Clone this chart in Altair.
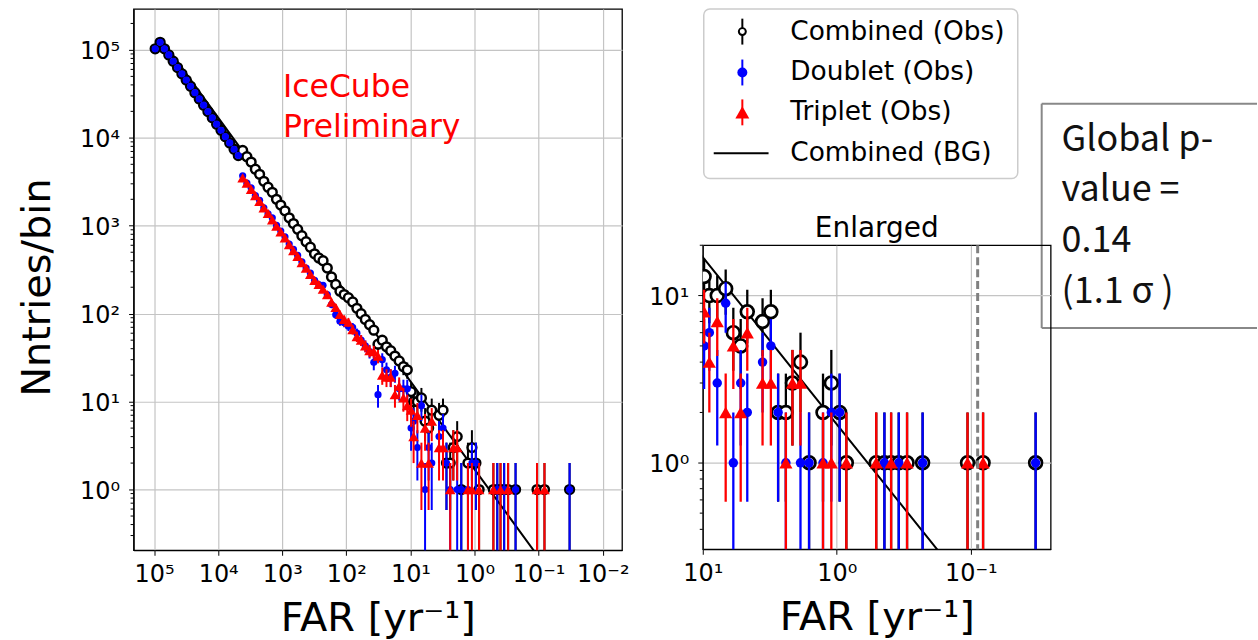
import altair as alt
import pandas as pd

FONT = "DejaVu Sans"

# ---------------- data ----------------
# bin centres, log10(FAR [1/yr])
log_far = [
    4.983, 4.906, 4.838, 4.770, 4.702, 4.634, 4.566, 4.499, 4.431, 4.363,
    4.295, 4.227, 4.160, 4.092, 4.024, 3.956, 3.888, 3.820, 3.752, 3.686,
    3.618, 3.552, 3.486, 3.420, 3.354, 3.288, 3.222, 3.156, 3.090, 3.024,
    2.958, 2.892, 2.826, 2.760, 2.694, 2.628, 2.562, 2.496, 2.430, 2.364,
    2.298, 2.232, 2.166, 2.100, 2.034, 1.968, 1.902, 1.836, 1.770, 1.704,
    1.638, 1.572, 1.506, 1.440, 1.374, 1.308, 1.242, 1.176, 1.110, 1.050,
    0.990, 0.951, 0.892, 0.829, 0.772, 0.717, 0.668, 0.554, 0.492, 0.438,
    0.380, 0.331, 0.271, 0.207, 0.103, 0.041, -0.021, -0.071, -0.294, -0.355,
    -0.405, -0.462, -0.524, -0.640, -0.975, -1.091, -1.483,
]
n_comb = [
    103000, 122000, 103000, 87700, 74300, 63000, 53400, 45400, 38500, 32600,
    27700, 23500, 19900, 16900, 14300, 12200, 10300, 8750, 7420, 6300,
    7200, 6100, 5300, 4400, 3850, 3200, 2750, 2400, 2000, 1720,
    1480, 1230, 1060, 910, 770, 660, 570, 480, 430, 400,
    330, 262, 215, 180, 165, 152, 136, 115, 100, 86,
    75, 65, 45, 50, 42, 38, 33, 29, 25, 23,
    13, 10, 10, 11, 6, 5, 8, 7, 8, 2,
    2, 3, 4, 1, 2, 3, 2, 1, 1, 1,
    1, 1, 1, 1, 1, 1, 1,
]
n_doub = [
    103000, 122000, 103000, 87700, 74300, 63000, 53400, 45400, 38500, 32600,
    27700, 23500, 19900, 16900, 14300, 12200, 10300, 8750, 7420, 6300,
    3700, 3050, 2700, 2200, 1950, 1600, 1370, 1230, 1010, 870,
    750, 620, 540, 460, 390, 330, 290, 240, 215, 210,
    165, 127, 97, 82, 79, 72, 70, 60, 50, 43,
    37, 28, 12, 30, 23, 19, 21, 14, 14, 14,
    5, 6, 3, 9, 1, 3, 2, 4, 5, 2,
    1, 0, 1, 1, 1, 2, 2, 0, 0, 1,
    0, 1, 0, 1, 0, 0, 1,
]
n_trip = [
    0, 0, 0, 0, 0, 0, 0, 0, 0, 0,
    0, 0, 0, 0, 0, 0, 0, 0, 0, 0,
    3500, 3050, 2600, 2200, 1900, 1600, 1380, 1170, 990, 850,
    730, 610, 520, 450, 380, 330, 280, 240, 215, 190,
    165, 135, 118, 98, 86, 80, 66, 55, 50, 43,
    38, 37, 33, 20, 19, 19, 12, 15, 11, 9,
    8, 4, 7, 2, 5, 2, 6, 3, 3, 0,
    1, 3, 3, 0, 1, 1, 0, 1, 1, 0,
    1, 0, 1, 0, 1, 1, 0,
]
# background expectation (straight line in log-log)
bg_far = [8e4, 1e4, 1e3, 1e2, 10, 1, 0.1, 0.01]
bg_n = [1.36e5, 1.7e4, 1.7e3, 170, 17, 1.7, 0.17, 0.017]
# threshold marked in the enlarged panel
vline_far = [0.089]


def series(counts):
    rows = []
    for lf, n in zip(log_far, counts):
        if n > 0:
            e = n ** 0.5
            rows.append({"far": 10 ** lf, "n": n, "lo": max(n - e, 1e-3), "hi": n + e})
    return pd.DataFrame(rows)


df_c = series(n_comb)
df_d = series(n_doub)
df_t = series(n_trip)
df_bg = pd.DataFrame({"far": bg_far, "n": bg_n})
df_v = pd.DataFrame({"far": vline_far})

SUP = ("datum.value >= 50000 ? '10⁵' : datum.value >= 5000 ? '10⁴' : "
       "datum.value >= 500 ? '10³' : datum.value >= 50 ? '10²' : "
       "datum.value >= 5 ? '10¹' : datum.value >= 0.5 ? '10⁰' : "
       "datum.value >= 0.05 ? '10⁻¹' : '10⁻²'")

GRID = "#c4c4c4"
one = pd.DataFrame({"d": [0]})


def make_axes(xvals, yvals, ytitle, ytitle_y):
    common = dict(labelExpr=SUP, labelFont=FONT, labelFontSize=24, labelColor="black",
                  tickColor="black", tickSize=5, domainColor="black", domainWidth=1.2,
                  grid=True, gridColor=GRID, gridWidth=1.2, labelFlush=False,
                  labelOverlap=False, titleFont=FONT, titleFontSize=40,
                  titleFontWeight="normal", titleColor="black")
    ax_x = alt.Axis(values=xvals, title="FAR [yr⁻¹]", labelPadding=7,
                    titleBaseline="alphabetic", titleY=80, **common)
    if ytitle:
        ax_y = alt.Axis(values=yvals, title=ytitle, labelPadding=9, titleBaseline="alphabetic",
                        titleX=-84, titleY=ytitle_y, labelOffset=2, **common)
    else:
        ax_y = alt.Axis(values=yvals, title=None, labelPadding=9, labelOffset=2, **common)
    return ax_x, ax_y


def panel(width, height, xdom, ydom, xvals, yvals, ytitle, ytitle_y, sizes, minor_vals,
          extra=None):
    ax_x, ax_y = make_axes(xvals, yvals, ytitle, ytitle_y)
    xs = alt.Scale(type="log", domain=xdom, reverse=True, nice=False)
    ys = alt.Scale(type="log", domain=ydom, nice=False)
    X = alt.X("far:Q", scale=xs, axis=ax_x)
    circ, circ_sw, dot, tri, lw = sizes

    def bars(df, color):
        return alt.Chart(df).mark_rule(color=color, strokeWidth=lw, clip=True).encode(
            x=X, y=alt.Y("lo:Q", scale=ys, axis=ax_y), y2="hi:Q")

    def pts(df, **kw):
        return alt.Chart(df).mark_point(clip=True, opacity=1, **kw).encode(
            x=X, y=alt.Y("n:Q", scale=ys, axis=ax_y))

    bg = alt.Chart(df_bg).mark_line(color="black", strokeWidth=2, clip=True).encode(
        x=X, y=alt.Y("n:Q", scale=ys, axis=ax_y))
    minor = alt.Chart(pd.DataFrame({"v": minor_vals})).mark_rule(
        color="black", strokeWidth=1).encode(
        y=alt.Y("v:Q", scale=ys, axis=ax_y), x=alt.value(0), x2=alt.value(-3))
    layers = [
        bg,
        bars(df_c, "black"),
        pts(df_c, shape="circle", filled=True, fill="white", stroke="black",
            strokeWidth=circ_sw, size=circ),
        bars(df_d, "#0000ff"),
        pts(df_d, shape="circle", filled=True, color="#0000ff", strokeWidth=0, size=dot),
        bars(df_t, "#ff0000"),
        pts(df_t, shape="triangle-up", filled=True, color="#ff0000", strokeWidth=0, size=tri),
        minor,
    ]
    if extra is not None:
        layers += extra(X, ys, ax_y)
    return alt.layer(*layers).properties(width=width, height=height)


minor_left = [m * 10.0 ** k for k in range(-1, 6) for m in range(2, 10)
              if 0.204 <= m * 10.0 ** k <= 2.92e5]
minor_right = [m * 10.0 ** k for k in range(-1, 2) for m in range(2, 10)
               if 0.304 <= m * 10.0 ** k <= 20]


def left_extra(X, ys, ax_y):
    t = alt.Chart(one).mark_text(
        font=FONT, fontSize=31.5, color="#ff0000", align="left", baseline="alphabetic",
        lineHeight=40.7).encode(x=alt.value(150), y=alt.value(88),
                                text=alt.value(["IceCube", "Preliminary"]))
    return [t]


def right_extra(X, ys, ax_y):
    v = alt.Chart(df_v).mark_rule(color="#808080", strokeWidth=3, strokeDash=[8, 4]).encode(x=X)
    t = alt.Chart(one).mark_text(font=FONT, fontSize=28, color="black", align="center",
                                 baseline="alphabetic").encode(
        x=alt.value(174.5), y=alt.value(-8), text=alt.value("Enlarged"))
    return [v, t]


left = panel(490, 543, [0.005, 2.09e5], [0.204, 2.92e5],
             [1e5, 1e4, 1e3, 1e2, 10, 1, 0.1, 0.01], [1, 10, 100, 1e3, 1e4, 1e5],
             "Nntries/bin", 279, (78, 2.5, 52, 115, 2), minor_left, left_extra)

right = panel(349, 305, [0.0254, 10], [0.304, 20], [10, 1, 0.1], [1, 10],
              None, 0, (165, 2.7, 90, 175, 2.3), minor_right, right_extra)

# ---------------- legend + annotation (top of right column) ----------------
rows_y = [22.7, 63.7, 103.7, 144.7]
labels = ["Combined (Obs)", "Doublet (Obs)", "Triplet (Obs)", "Combined (BG)"]
sym_x = 39.7

top_layers = [
    alt.Chart(one).mark_rect(fill="white", stroke="#cccccc", strokeWidth=1.5,
                             cornerRadius=6).encode(
        x=alt.value(1), x2=alt.value(316), y=alt.value(0), y2=alt.value(170)),
]
colors = ["black", "#0000ff", "#ff0000"]
for i in range(3):
    top_layers.append(alt.Chart(one).mark_rule(color=colors[i], strokeWidth=2).encode(
        x=alt.value(sym_x), y=alt.value(rows_y[i] - 13), y2=alt.value(rows_y[i] + 13)))
top_layers.append(alt.Chart(one).mark_point(shape="circle", filled=True, fill="white",
                                            stroke="black", strokeWidth=2, size=49,
                                            opacity=1).encode(
    x=alt.value(sym_x), y=alt.value(rows_y[0])))
top_layers.append(alt.Chart(one).mark_point(shape="circle", filled=True, color="#0000ff",
                                            size=100, opacity=1).encode(
    x=alt.value(sym_x), y=alt.value(rows_y[1])))
top_layers.append(alt.Chart(one).mark_point(shape="triangle-up", filled=True, color="#ff0000",
                                            size=196, opacity=1).encode(
    x=alt.value(sym_x), y=alt.value(rows_y[2])))
top_layers.append(alt.Chart(one).mark_rule(color="black", strokeWidth=2).encode(
    x=alt.value(11), x2=alt.value(66), y=alt.value(rows_y[3])))
for i, lab in enumerate(labels):
    top_layers.append(alt.Chart(one).mark_text(font=FONT, fontSize=26.5, color="black",
                                               align="left", baseline="middle").encode(
        x=alt.value(87.7), y=alt.value(rows_y[i]), text=alt.value(lab)))
# annotation box (open on the right: it runs past the figure edge)
BOX = "#888888"
top_layers.append(alt.Chart(one).mark_rule(color=BOX, strokeWidth=2).encode(
    x=alt.value(340), x2=alt.value(556), y=alt.value(95)))
top_layers.append(alt.Chart(one).mark_rule(color=BOX, strokeWidth=2).encode(
    x=alt.value(340), x2=alt.value(556), y=alt.value(320)))
top_layers.append(alt.Chart(one).mark_rule(color=BOX, strokeWidth=2).encode(
    x=alt.value(340), y=alt.value(95), y2=alt.value(320)))
top_layers.append(alt.Chart(one).mark_text(font="Noto Sans CJK JP", fontSize=36, color="#111111",
                                           align="left", baseline="alphabetic",
                                           lineHeight=51).encode(
    x=alt.value(360), y=alt.value(142),
    text=alt.value(["Global p-", "value =", "0.14", "(1.1 σ )"])))

top = alt.layer(*top_layers).properties(
    width=349, height=217, view=alt.ViewBackground(strokeOpacity=0))

right_col = alt.vconcat(top, right, spacing=20, bounds="flush")

chart = alt.hconcat(left, right_col, spacing=81, bounds="flush").properties(
    padding={"left": 17, "top": 7, "right": 0, "bottom": 0},
    background="white",
).configure_view(stroke="black", strokeWidth=1.3)

chart.save("out.html", embed_options={"renderer": "svg", "actions": False})
